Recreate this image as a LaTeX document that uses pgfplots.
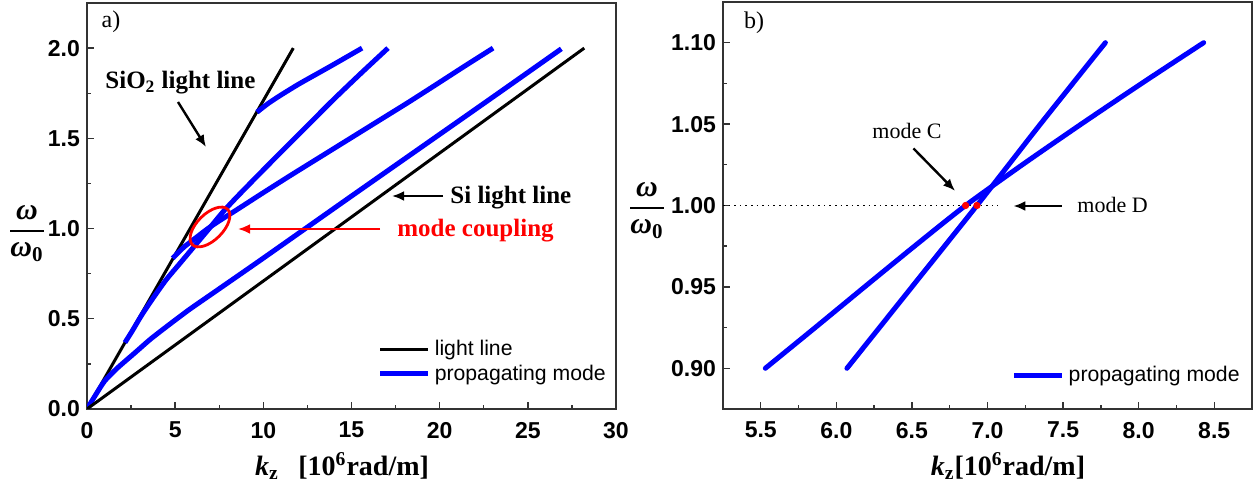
\documentclass[border=0pt]{standalone}
\usepackage{pgfplots}
\pgfplotsset{compat=1.18}
\usepackage{fontspec}
\setmainfont{Liberation Serif}
\setsansfont{Liberation Sans}
\usetikzlibrary{arrows.meta}
\newcommand{\wfrac}{{\fontsize{15}{17}\selectfont\bfseries\itshape\setlength{\arrayrulewidth}{0.9pt}\renewcommand{\arraystretch}{1.05}\begin{tabular}{@{}c@{}}ω\\\hline ω\textsubscript{\upshape 0}\end{tabular}}}

% panel a) series
\pgfplotstableread{
k w
0 0
11.7 2.0
}\siolight
\pgfplotstableread{
k w
0 0
28.2 2.0
}\silight
\pgfplotstableread{
k w
0 0
0.5 0.08
1.0 0.155
1.7 0.225
2.7 0.31
3.6 0.387
4.6 0.463
5.8 0.551
7.26 0.65
10.0 0.836
15.0 1.18
20.0 1.522
23.43 1.757
26.9 1.996
}\modeD
\pgfplotstableread{
k w
9.64 1.645
10.3 1.695
11.0 1.74
12.0 1.80
13.0 1.855
14.0 1.91
15.6 2.0
}\modeA
\pgfplotstableread{
k w
2.15 0.368
2.55 0.43
3.1 0.52
3.75 0.615
4.48 0.715
5.21 0.8
6.07 0.9
6.5 0.95
6.93 1.0
7.35 1.05
7.78 1.1
8.5 1.175
9.8 1.305
11.12 1.435
12.5 1.57
13.95 1.712
15.5 1.857
17.07 2.0
}\modeB
\pgfplotstableread{
k w
4.86 0.835
5.1 0.86
5.53 0.9
5.86 0.925
6.2 0.951
6.53 0.976
6.855 1.0
7.23 1.025
7.62 1.05
8.02 1.075
8.43 1.1
10.0 1.199
11.6 1.298
13.25 1.398
14.9 1.498
16.55 1.598
18.2 1.698
19.8 1.798
21.4 1.899
23.03 2.0
}\modeC
% panel b) series
\pgfplotstableread{
k w
6.07 0.9
6.5 0.95
6.93 1.0
7.35 1.05
7.78 1.1
}\bB
\pgfplotstableread{
k w
5.53 0.9
5.86 0.925
6.2 0.951
6.53 0.976
6.855 1.0
7.23 1.025
7.62 1.05
8.02 1.075
8.43 1.1
}\bC

\begin{document}
\begin{tikzpicture}
\useasboundingbox (0,0) rectangle (626.5pt,243pt);
\pgfplotsset{
  myaxis/.style={
    scale only axis,
    anchor=south west,
    axis line style={line width=0.9pt, color=black!80},
    tick style={line width=0.7pt, color=black!80},
    tick align=inside,
    xtick pos=bottom, ytick pos=left,
    major tick length=3.5pt, minor tick length=2pt,
    minor tick num=1,
    /pgf/number format/assume math mode=true,
    ticklabel style={font=\fontsize{11.5}{13}\selectfont\sffamily\bfseries},
    xticklabel style={yshift=-3pt},
    legend style={draw=none, fill=none, font=\fontsize{10.6}{12}\selectfont\sffamily,
      anchor=north west, inner sep=0pt, row sep=-1pt},
    legend cell align=left,
    legend image code/.code={\draw[##1, line cap=butt] (0pt,0pt) -- (24pt,0pt);},
  },
}
% ---------- panel a ----------
\begin{axis}[myaxis, at={(43.5pt,38.5pt)}, width=264.5pt, height=203pt,
  xmin=0, xmax=30, ymin=0, ymax=2.25,
  xtick={0,5,10,15,20,25,30}, ytick={0,0.5,1,1.5,2},
  y tick label style={/pgf/number format/.cd, fixed, fixed zerofill, precision=1, /tikz/.cd},
  legend style={at={(0.549,0.18)}},
  every axis plot/.append style={smooth, tension=0.4}]
\addplot[black, line width=1.5pt] table[x=k,y=w] {\siolight};
\addlegendentry{light line}
\addplot[blue, line width=2.5pt] table[x=k,y=w] {\modeD};
\addlegendentry{propagating mode}
\addplot[black, line width=1.5pt, forget plot] table[x=k,y=w] {\silight};
\addplot[blue, line width=2.5pt, forget plot] table[x=k,y=w] {\modeA};
\addplot[blue, line width=2.5pt, forget plot] table[x=k,y=w] {\modeB};
\addplot[blue, line width=2.5pt, forget plot] table[x=k,y=w] {\modeC};
\end{axis}
% ---------- panel b ----------
\begin{axis}[myaxis, at={(361.5pt,38.5pt)}, width=264.5pt, height=203.5pt,
  xmin=5.25, xmax=8.75, ymin=0.875, ymax=1.125,
  xtick={5.5,6,6.5,7,7.5,8,8.5}, ytick={0.9,0.95,1,1.05,1.1},
  x tick label style={/pgf/number format/.cd, fixed, fixed zerofill, precision=1, /tikz/.cd},
  y tick label style={/pgf/number format/.cd, fixed, fixed zerofill, precision=2, /tikz/.cd},
  legend style={at={(0.545,0.115)}}]
\addplot[black, dotted, line width=0.8pt, forget plot] coordinates {(5.25,1.0) (7.07,1.0)};
\addplot[blue, line width=2.5pt, line cap=round, smooth, tension=0.4] table[x=k,y=w] {\bB};
\addlegendentry{propagating mode}
\addplot[blue, line width=2.5pt, line cap=round, smooth, tension=0.4, forget plot] table[x=k,y=w] {\bC};
\addplot[red, only marks, mark=*, mark size=1.6pt, forget plot] coordinates {(6.855,1.0) (6.93,1.0)};
\end{axis}
% ---------- annotations ----------
\node[inner sep=0] at (55.5pt,232pt) {\fontsize{12}{14}\selectfont a)};
\node[inner sep=0] at (377pt,231.5pt) {\fontsize{12}{14}\selectfont b)};
\node[anchor=west, inner sep=0] at (52.5pt,201.5pt) {\fontsize{12.5}{14}\selectfont\bfseries SiO\textsubscript{2} light line};
\draw[line width=1.2pt, -{Latex[length=6pt,width=5pt]}] (89pt,192pt) -- (103pt,169.5pt);
\node[anchor=west, inner sep=0] at (225pt,144pt) {\fontsize{12.5}{14}\selectfont\bfseries Si light line};
\draw[line width=1.2pt, -{Latex[length=6pt,width=5pt]}] (221.5pt,145pt) -- (196pt,145pt);
\node[anchor=west, inner sep=0, text=red] at (198.5pt,127.5pt) {\fontsize{12.5}{14}\selectfont\bfseries mode coupling};
\draw[red, line width=1.4pt, -{Latex[length=6pt,width=5pt]}] (190pt,128.5pt) -- (119pt,128.5pt);
\draw[red, line width=1.4pt, shift={(105pt,129.5pt)}, rotate=45] (0,0) ellipse [x radius=12.5pt, y radius=6.5pt];
\node[inner sep=0] at (453.5pt,177.5pt) {\fontsize{11}{13}\selectfont mode C};
\draw[line width=1.2pt, -{Latex[length=6pt,width=5pt]}] (456.7pt,168.8pt) -- (477.5pt,147.6pt);
\node[anchor=west, inner sep=0] at (538.5pt,140.5pt) {\fontsize{11}{13}\selectfont mode D};
\draw[line width=1.2pt, -{Latex[length=6pt,width=5pt]}] (530.8pt,140pt) -- (506.7pt,140pt);
% axis labels
\node[inner sep=0] at (13.5pt,127.5pt) {\wfrac};
\node[inner sep=0] at (323.5pt,139pt) {\wfrac};
\node[inner sep=0] at (171pt,10pt) {\fontsize{14}{16}\selectfont\bfseries\textit{k}\textsubscript{z}\hspace{0.7em}[10\textsuperscript{6}rad/m]};
\node[inner sep=0] at (504pt,10pt) {\fontsize{14}{16}\selectfont\bfseries\textit{k}\textsubscript{z}[10\textsuperscript{6}rad/m]};
\end{tikzpicture}
\end{document}
